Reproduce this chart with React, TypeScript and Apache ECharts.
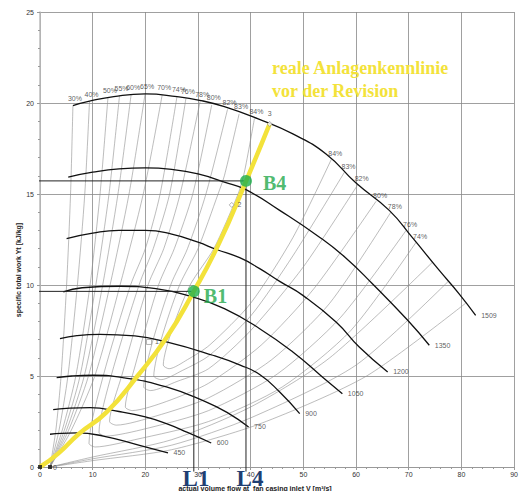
import React, { useEffect, useRef } from 'react';
import * as echarts from 'echarts';

// ---- speed curves (rpm) ----
const speedLabels = ['450', '600', '750', '900', '1050', '1200', '1350', '1509'];
const speed450 = [[1.9, 1.8], [4, 1.85], [7, 1.87], [12, 1.7], [18.9, 1.19], [24.3, 0.77]];
const speed600 = [[2.5, 3.15], [5, 3.22], [9.5, 3.26], [15, 3.05], [20, 2.75], [24, 2.38], [28, 1.9], [32.5, 1.32]];
const speed750 = [[3.16, 4.91], [6, 5.0], [10.1, 5.04], [16, 4.9], [24, 4.4], [31.6, 3.57], [35.5, 3.0], [39.6, 2.2]];
const speed900 = [[3.79, 7.05], [7, 7.22], [11.4, 7.29], [18, 7.2], [24, 6.87], [32.8, 6.14], [38, 5.6], [41.7, 5.08], [45.5, 4.12], [49.3, 2.93]];
const speed1050 = [[4.42, 9.62], [8, 9.85], [15.2, 9.93], [22, 9.8], [29, 9.34], [35, 8.7], [41.7, 7.6], [48, 6.32], [53.6, 4.95], [57.4, 4.03]];
const speed1200 = [[5.05, 12.55], [10, 12.85], [15, 13.0], [20, 13.0], [25, 12.8], [30, 12.35], [33.5, 11.95], [37.9, 11.5], [41.7, 10.9], [45.5, 10.2], [49.9, 9.43], [56.2, 7.97], [60.6, 6.59], [66, 5.22]];
const speed1350 = [[5.36, 15.93], [10, 16.2], [15, 16.38], [20, 16.43], [25, 16.35], [30, 16.1], [35, 15.65], [39, 15.25], [45.5, 14.1], [53, 12.64], [58, 11.5], [63.1, 10.07], [69.8, 8.06], [73.9, 6.69]];
const speed1509 = [[6.25, 19.86], [9.4, 20.1], [14, 20.35], [20, 20.5], [26, 20.35], [30.3, 20.15], [35, 19.8], [41.3, 19.14], [48, 18.3], [54.3, 17.2], [60, 15.6], [66.3, 14.1], [70.7, 12.6], [75.8, 10.8], [79.6, 9.5], [82.7, 8.33]];
const speedCurves = [speed450, speed600, speed750, speed900, speed1050, speed1200, speed1350, speed1509];

// ---- efficiency contours ----
const effOpenLabels = ['30%', '40%', '50%', '55%', '60%', '65%', '70%'];
const effOpenLines = [
  [[1.9, 0], [3.0, 2], [4.0, 5], [5.05, 10], [5.8, 15], [6.25, 19.86]],
  [[1.9, 0], [3.6, 2], [5.3, 5], [7.1, 10], [8.5, 15], [9.4, 20.1]],
  [[1.9, 0], [4.2, 2], [6.8, 5], [9.5, 10], [11.4, 15], [12.9, 20.3]],
  [[1.9, 0], [4.6, 2], [7.6, 5], [10.6, 10], [13.1, 15], [15.1, 20.42]],
  [[1.9, 0], [5.0, 2], [8.4, 5], [11.9, 10], [14.8, 15], [17.3, 20.47]],
  [[1.9, 0], [5.4, 2], [9.2, 5], [13.3, 10], [16.9, 15], [19.95, 20.5]],
  [[1.9, 0], [5.9, 2], [10.4, 5], [15.2, 10], [19.6, 15], [23.2, 20.45]],
];
const effLoopLabels = ['74%', '76%', '78%', '80%', '82%', '83%', '84%'];
const effLoopLines = [
  [[26.0, 20.35], [22.8, 15], [20, 12], [17.2, 10], [12, 5], [9.3, 1.3], [10.5, 1.1], [18, 1.5], [32, 2.5], [46, 4.4], [59, 7.5], [71.4, 12.35]],
  [[27.7, 20.25], [24.6, 15], [21.5, 12], [18.8, 10], [13.5, 5], [11.2, 1.9], [12.5, 1.7], [20, 2.1], [32, 3.1], [45, 5.1], [57, 8.2], [69.5, 13.0]],
  [[30.4, 20.1], [26.6, 15], [23.5, 12], [20.5, 10], [15.5, 5], [13.2, 2.5], [14.5, 2.3], [22, 2.8], [32, 3.8], [44, 5.9], [55, 9.0], [66.6, 14.0]],
  [[32.6, 19.9], [29, 15], [25.5, 12], [22.5, 10], [18, 5.5], [16.2, 3.3], [17.5, 3.1], [24, 3.6], [32, 4.6], [42, 6.7], [52, 9.8], [63.8, 14.6]],
  [[35.6, 19.65], [31.5, 15], [28, 12], [24.8, 10], [21, 6.5], [19.7, 4.4], [21, 4.2], [26, 4.7], [32, 5.4], [40, 7.5], [50, 11.0], [60.3, 15.5]],
  [[37.8, 19.4], [35.0, 16], [33.8, 15], [30, 12], [26.5, 10], [23, 7], [21.6, 5.0], [23, 4.8], [27, 5.3], [32, 6.1], [40, 8.3], [48, 11.6], [57.8, 16.2]],
  [[40.7, 19.14], [38.8, 16.2], [37.6, 15], [33, 12], [28.5, 10], [25, 7.5], [23.4, 5.6], [24.5, 5.4], [28, 5.9], [32.2, 6.7], [40, 9.0], [48, 12.6], [55.3, 16.9]],
];
const effRightOpenLines = [
  [[1.9, 0], [10, 0.55], [25, 1.5], [40, 3.3], [55, 6.0], [74.5, 11.25]],
  [[1.9, 0], [10, 0.45], [25, 1.2], [40, 2.7], [60, 5.6], [77.5, 10.2]],
  [[1.9, 0], [10, 0.35], [25, 0.95], [42, 2.4], [62, 5.0], [80.8, 9.0]],
];

// ---- system curve (yellow) and operating points ----
const systemCurve = [[0, 0], [3.5, 0.75], [7.3, 1.8], [12.6, 3.0], [18.5, 5.0], [24, 7.1], [29.1, 9.6], [34, 12.3], [39.1, 15.7], [43.6, 18.85]];
const opNames = ['B1', 'B4'];
const opPoints = [[29.2, 9.65], [39.1, 15.72]];
const markerNames = ['1', '2', '3'];
const markerPoints = [[20.7, 6.87], [36.4, 14.4], [43.6, 18.85]];

const FONT = 'Liberation Sans, Arial, sans-serif';
const SERIF = 'Liberation Serif, Times New Roman, serif';

export default function App() {
  const ref = useRef<HTMLDivElement>(null);
  useEffect(() => {
    if (!ref.current) return;
    const chart = echarts.init(ref.current, null, { renderer: 'svg' });
    const series: any[] = [];
    const thin = { color: '#8f8f8f', width: 0.6 };
    const addLine = (data: number[][], style: any, z: number, extra: any = {}) => {
      series.push({
        type: 'line', data, showSymbol: false, symbol: 'none', smooth: 0.25,
        lineStyle: style, silent: true, z, ...extra,
      });
    };
    effOpenLines.forEach((l) => addLine(l, thin, 2));
    effLoopLines.forEach((l) => addLine(l, thin, 2));
    effRightOpenLines.forEach((l) => addLine(l, thin, 2));
    speedCurves.forEach((l) => addLine(l, { color: '#111', width: 1.3 }, 3, { smooth: true }));

    // reference lines to B1 / B4
    const [b1, b4] = opPoints;
    addLine([[-0.7, b1[1]], b1], { color: '#222', width: 1 }, 4, { smooth: false, clip: false });
    addLine([b1, [b1[0], -0.25]], { color: '#222', width: 1 }, 4, { smooth: false, clip: false });
    addLine([[-0.7, b4[1]], b4], { color: '#222', width: 1 }, 4, { smooth: false, clip: false });
    addLine([b4, [b4[0], -0.25]], { color: '#222', width: 1 }, 4, { smooth: false, clip: false });

    // yellow system curve
    addLine(systemCurve, { color: '#f3e23a', width: 4.5 }, 5, { smooth: true });

    const labelText = { fontSize: 7, color: '#333', fontFamily: FONT };
    // efficiency labels
    const effLabelData: any[] = [];
    effOpenLines.forEach((l, i) => {
      effLabelData.push({ value: l[l.length - 1], name: effOpenLabels[i], label: { position: 'top', distance: 3, offset: [2, 0] } });
    });
    effLoopLines.forEach((l, i) => {
      effLabelData.push({ value: l[0], name: effLoopLabels[i], label: { position: 'top', distance: 3, offset: [2, 0] } });
      effLabelData.push({ value: l[l.length - 1], name: effLoopLabels[i], label: { position: 'top', distance: 2, offset: [4, 0] } });
    });
    series.push({
      type: 'scatter', data: effLabelData, symbolSize: 1, silent: true, z: 6,
      itemStyle: { color: 'rgba(0,0,0,0)' },
      label: { show: true, formatter: '{b}', ...labelText },
    });
    // speed labels
    series.push({
      type: 'scatter', silent: true, z: 6, symbolSize: 1,
      itemStyle: { color: 'rgba(0,0,0,0)' },
      data: speedCurves.map((c, i) => ({ value: c[c.length - 1], name: speedLabels[i] })),
      label: { show: true, formatter: '{b}', position: 'right', distance: 5, ...labelText },
    });
    // small markers 1,2,3
    series.push({
      type: 'scatter', silent: true, z: 7,
      data: markerPoints.map((p, i) => ({
        value: p, name: markerNames[i],
        symbol: i === 0 ? 'rect' : 'diamond',
        label: i === 2 ? { position: 'top', distance: 4 } : { position: 'right', distance: 3 },
      })),
      symbolSize: 5,
      itemStyle: { color: '#fff', borderColor: '#777', borderWidth: 0.7 },
      label: { show: true, formatter: '{b}', ...labelText },
    });
    // origin markers
    series.push({
      type: 'scatter', silent: true, z: 7, symbol: 'rect', symbolSize: 4, clip: false,
      itemStyle: { color: '#111' },
      data: [{ value: [0, 0], name: '' }, { value: [1.9, 0], name: '0', label: { show: true, position: 'right', distance: 1, formatter: '{b}', ...labelText } }],
    });
    // operating points
    series.push({
      type: 'scatter', silent: true, z: 8, symbolSize: 12,
      itemStyle: { color: '#1fb04c' },
      data: opPoints.map((p, i) => ({
        value: p, name: opNames[i],
        label: i === 0 ? { position: 'right', distance: 4, offset: [0, 5] } : { position: 'right', distance: 11, offset: [0, 2] },
      })),
      label: { show: true, formatter: '{b}', fontFamily: SERIF, fontWeight: 'bold', fontSize: 20, color: '#22a84a' },
    });

    chart.setOption({
      animation: false,
      backgroundColor: '#fff',
      grid: { left: 40, right: 6, top: 12, bottom: 24 },
      xAxis: {
        type: 'value', min: 0, max: 90, interval: 10,
        axisLine: { lineStyle: { color: '#999', width: 1 } },
        axisTick: { show: true, length: 3, lineStyle: { color: '#999' } },
        minorTick: { show: true, splitNumber: 5, length: 2, lineStyle: { color: '#999' } },
        axisLabel: { fontSize: 7, color: '#333', margin: 4, fontFamily: FONT },
        splitLine: { show: true, lineStyle: { color: '#888', width: 0.8 } },
      },
      yAxis: {
        type: 'value', min: 0, max: 25, interval: 5,
        axisLine: { show: true, lineStyle: { color: '#bbb', width: 1.5 } },
        axisTick: { show: true, length: 3, lineStyle: { color: '#999' } },
        minorTick: { show: true, splitNumber: 5, length: 2, lineStyle: { color: '#999' } },
        axisLabel: { fontSize: 7, color: '#333', margin: 6, fontFamily: FONT },
        splitLine: { show: true, lineStyle: { color: '#888', width: 0.8 } },
      },
      graphic: [
        { type: 'text', left: 272, top: 59, z: 20, style: { text: 'reale Anlagenkennlinie', font: `bold 18px ${SERIF}`, fill: '#f3e23a' } },
        { type: 'text', left: 272, top: 82, z: 20, style: { text: 'vor der Revision', font: `bold 18px ${SERIF}`, fill: '#f3e23a' } },
        { type: 'text', x: 196, y: 478, z: 20, style: { text: 'L1', font: `bold 23px ${SERIF}`, fill: '#1f3f73', align: 'center', verticalAlign: 'middle' } },
        { type: 'text', x: 250, y: 478, z: 20, style: { text: 'L4', font: `bold 23px ${SERIF}`, fill: '#1f3f73', align: 'center', verticalAlign: 'middle' } },
        { type: 'text', x: 255, y: 488, z: 21, style: { text: 'actual volume flow at  fan casing inlet V [m³/s]', font: `bold 7px ${FONT}`, fill: '#222', align: 'center', verticalAlign: 'middle' } },
        { type: 'text', x: 18, y: 270, rotation: Math.PI / 2, z: 21, style: { text: 'specific total work Yt [kJ/kg]', font: `bold 7px ${FONT}`, fill: '#222', align: 'center', verticalAlign: 'middle' } },
      ],
      series,
    });
    return () => chart.dispose();
  }, []);
  return <div ref={ref} style={{ position: 'fixed', left: 0, top: 0, width: 521, height: 491 }} />;
}
